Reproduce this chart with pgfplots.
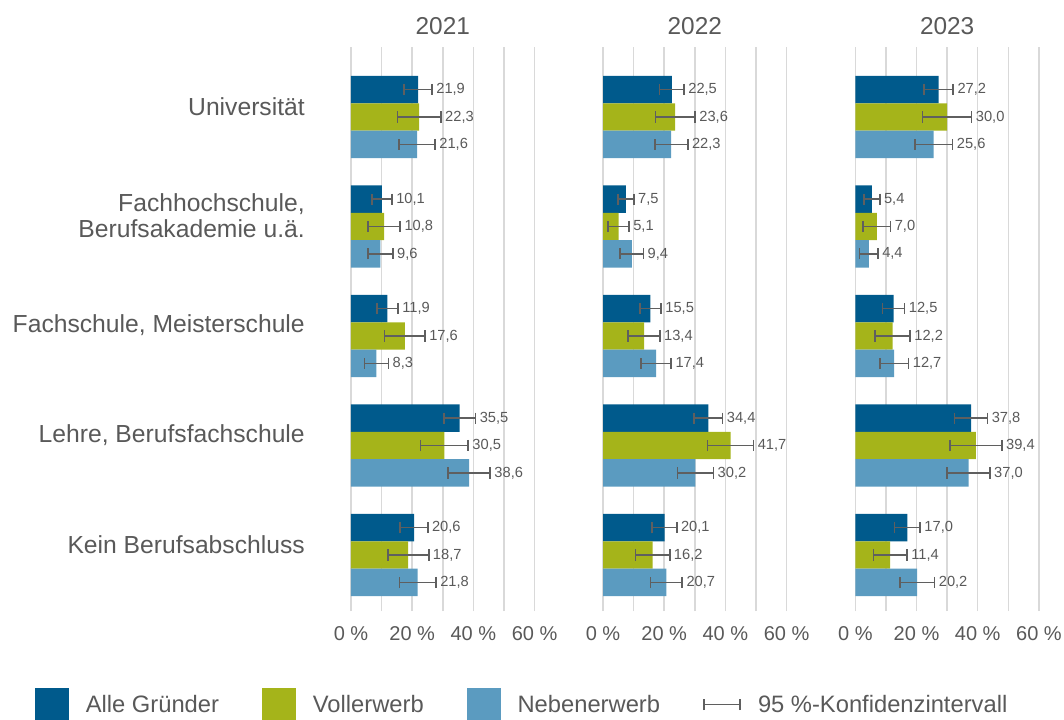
\documentclass[border=0pt]{standalone}
\usepackage{fontspec}
\setmainfont{Liberation Sans}
\usepackage{pgfplots}
\usepackage{pgfplotstable}
\pgfplotsset{compat=1.18}

\definecolor{alle}{HTML}{005A8C}
\definecolor{voll}{HTML}{A5B41A}
\definecolor{neben}{HTML}{5B9BC0}
\definecolor{txt}{HTML}{595959}
\definecolor{errc}{HTML}{5F5F5F}
\definecolor{gridc}{HTML}{D9D9D9}

% y: 4 = Universitaet ... 0 = Kein Berufsabschluss
% a/b/c = Alle / Vollerwerb / Nebenerwerb, ae/be/ce = half width of the 95 % interval
\pgfplotstableread{
y a ae b be c ce
4 21.9 4.6 22.3 7.1 21.6 5.9
3 10.1 3.3 10.8 5.3 9.6 4.1
2 11.9 3.5 17.6 6.6 8.3 3.9
1 35.5 5.2 30.5 7.8 38.6 6.9
0 20.6 4.5 18.7 6.7 21.8 6.0
}\datai

\pgfplotstableread{
y a ae b be c ce
4 22.5 4.0 23.6 6.5 22.3 5.4
3 7.5 2.6 5.1 3.4 9.4 3.8
2 15.5 3.5 13.4 5.2 17.4 4.9
1 34.4 4.7 41.7 7.5 30.2 5.9
0 20.1 4.0 16.2 5.6 20.7 5.2
}\dataii

\pgfplotstableread{
y a ae b be c ce
4 27.2 4.8 30.0 8.0 25.6 6.2
3 5.4 2.6 7.0 4.5 4.4 3.0
2 12.5 3.6 12.2 5.7 12.7 4.7
1 37.8 5.4 39.4 8.5 37.0 7.0
0 17.0 4.2 11.4 5.5 20.2 5.7
}\dataiii

\pgfplotsset{
  panel/.style={
    scale only axis, width=137.7pt, height=423pt, anchor=south west,
    xmin=0, xmax=60, ymin=-0.511, ymax=4.639,
    xtick={0,10,...,60}, xticklabels={0 \%,,20 \%,,40 \%,,60 \%},
    ytick=\empty,
    xmajorgrids, grid style={gridc, line width=1.1pt},
    axis line style={draw=none}, major tick length=0pt,
    xticklabel style={font=\fontsize{15}{18}\selectfont, text=txt, anchor=base, yshift=-22pt},
    title style={font=\fontsize{18.3}{22}\selectfont, text=txt, anchor=base, at={(0.5,1)}, yshift=3pt},
    clip=false,
  },
  bars/.style={xbar, bar width=0.25, bar shift=0pt, draw=none, fill=#1, forget plot,
    error bars/.cd, x dir=both, x explicit, error mark=|,
    error bar style={errc, line width=1.2pt},
    error mark options={errc, line width=1.2pt, mark size=4.2pt}},
  vals/.style={draw=none, mark=none, forget plot, nodes near coords, point meta=explicit,
    every node near coord/.append style={anchor=west, font=\fontsize{11}{13}\selectfont, text=txt, inner sep=1.5pt, xshift=1.5pt},
    /pgf/number format/.cd, use comma, fixed, fixed zerofill, precision=1, assume math mode=true},
}

\newcommand{\panelplots}[1]{%
  \addplot[bars=alle] table[x=a, y expr=\thisrow{y}+0.25, x error=ae] {#1};
  \addplot[bars=voll] table[x=b, y=y, x error=be] {#1};
  \addplot[bars=neben] table[x=c, y expr=\thisrow{y}-0.25, x error=ce] {#1};
  \addplot[vals] table[x expr=\thisrow{a}+\thisrow{ae}, y expr=\thisrow{y}+0.25, meta=a] {#1};
  \addplot[vals] table[x expr=\thisrow{b}+\thisrow{be}, y=y, meta=b] {#1};
  \addplot[vals] table[x expr=\thisrow{c}+\thisrow{ce}, y expr=\thisrow{y}-0.25, meta=c] {#1};
}

\begin{document}
\begin{tikzpicture}
\useasboundingbox (0,0) rectangle (798pt,539.25pt);

\begin{axis}[panel, at={(263.25pt,81pt)}, title={2021},
    ytick={0,1,2,3,4},
    yticklabels={Kein Berufsabschluss,{Lehre, Berufsfachschule},{Fachschule, Meisterschule},{Fachhochschule,\\Berufsakademie u.ä.},Universität},
    yticklabel style={anchor=east, align=right, font=\fontsize{18.5}{19.5}\selectfont, text=txt, xshift=-34.5pt, yshift=8pt, inner sep=0pt},
    legend columns=4,
    legend style={at={(-1.721,-0.166)}, anchor=west, draw=none, fill=none, inner sep=0pt,
      font=\fontsize{17.8}{22}\selectfont, text=txt, nodes={inner sep=0pt},
      /tikz/every even column/.append style={column sep=32.5pt},
      /tikz/every odd column/.append style={column sep=12.75pt}},
  ]
  \panelplots{\datai}
  \addlegendimage{legend image code/.code={\fill[alle] (0pt,-12.4pt) rectangle (24.75pt,12.4pt);}}
  \addlegendentry{Alle Gründer}
  \addlegendimage{legend image code/.code={\fill[voll] (0pt,-12.4pt) rectangle (24.75pt,12.4pt);}}
  \addlegendentry{Vollerwerb}
  \addlegendimage{legend image code/.code={\fill[neben] (0pt,-12.4pt) rectangle (24.75pt,12.4pt);}}
  \addlegendentry{Nebenerwerb}
  \addlegendimage{legend image code/.code={\draw[errc, line width=1.2pt] (0pt,0pt) -- (27pt,0pt) (0pt,-4.2pt) -- (0pt,4.2pt) (27pt,-4.2pt) -- (27pt,4.2pt);}}
  \addlegendentry{95 \%-Konfidenzintervall}
\end{axis}

\begin{axis}[panel, at={(452.25pt,81pt)}, title={2022}]
  \panelplots{\dataii}
\end{axis}

\begin{axis}[panel, at={(641.5pt,81pt)}, title={2023}]
  \panelplots{\dataiii}
\end{axis}
\end{tikzpicture}
\end{document}
